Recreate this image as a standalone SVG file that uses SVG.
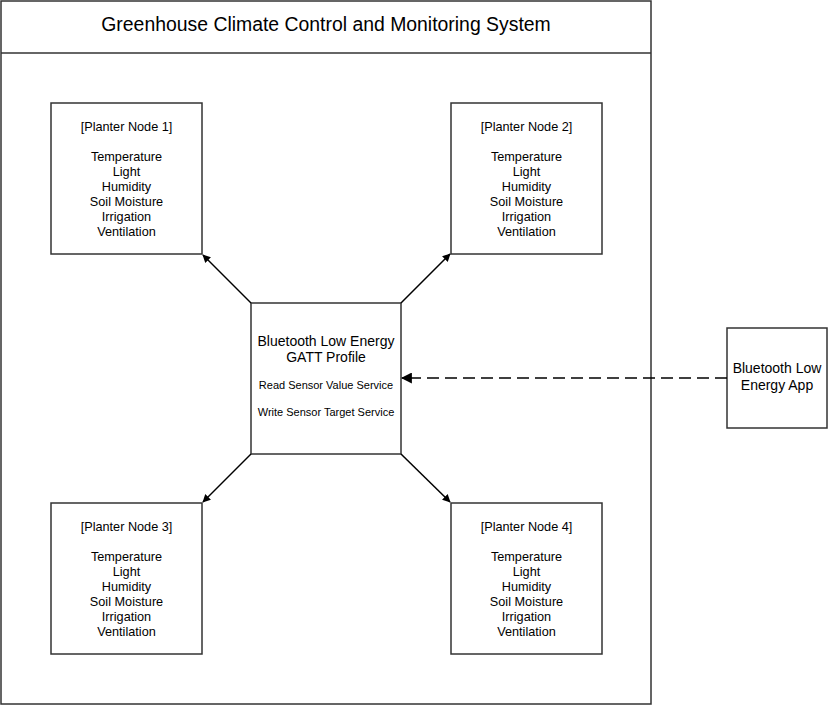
<svg xmlns="http://www.w3.org/2000/svg" width="829" height="706" viewBox="0 0 829 706">
<style>
.box{fill:#fff;stroke:#333;stroke-width:1.5}
text{font-family:"Liberation Sans",Arial,sans-serif;fill:#000;text-anchor:middle}
.t13{font-size:12.7px}
.t14{font-size:14px}
.t11{font-size:11px}
.conn{stroke:#000;stroke-width:1.5;fill:none}
</style>
<defs>
<marker id="ah" viewBox="0 0 10 10" refX="9" refY="5" markerWidth="8" markerHeight="8" markerUnits="userSpaceOnUse" orient="auto">
<path d="M0,0 L10,5 L0,10 z" fill="#000"/>
</marker>
<marker id="ah2" viewBox="0 0 10 10" refX="9" refY="5" markerWidth="11" markerHeight="11" markerUnits="userSpaceOnUse" orient="auto">
<path d="M0,0 L10,5 L0,10 z" fill="#000"/>
</marker>
</defs>
<rect width="829" height="706" fill="#fff"/>
<g id="container">
<rect class="box" x="1" y="1" width="650" height="703"/>
<line x1="1" y1="53" x2="651" y2="53" stroke="#333" stroke-width="1.5"/>
<text x="326" y="31" style="font-size:19.4px">Greenhouse Climate Control and Monitoring System</text>
</g>
<g id="node1">
<rect class="box" x="51" y="103" width="151" height="151"/>
<text class="t13" x="126.5" y="131">[Planter Node 1]</text>
<text class="t13" x="126.5" y="161">Temperature</text>
<text class="t13" x="126.5" y="176">Light</text>
<text class="t13" x="126.5" y="191">Humidity</text>
<text class="t13" x="126.5" y="206">Soil Moisture</text>
<text class="t13" x="126.5" y="221">Irrigation</text>
<text class="t13" x="126.5" y="236">Ventilation</text>
</g>
<g id="node2">
<rect class="box" x="451" y="103" width="151" height="151"/>
<text class="t13" x="526.5" y="131">[Planter Node 2]</text>
<text class="t13" x="526.5" y="161">Temperature</text>
<text class="t13" x="526.5" y="176">Light</text>
<text class="t13" x="526.5" y="191">Humidity</text>
<text class="t13" x="526.5" y="206">Soil Moisture</text>
<text class="t13" x="526.5" y="221">Irrigation</text>
<text class="t13" x="526.5" y="236">Ventilation</text>
</g>
<g id="node3">
<rect class="box" x="51" y="503" width="151" height="151"/>
<text class="t13" x="126.5" y="531">[Planter Node 3]</text>
<text class="t13" x="126.5" y="561">Temperature</text>
<text class="t13" x="126.5" y="576">Light</text>
<text class="t13" x="126.5" y="591">Humidity</text>
<text class="t13" x="126.5" y="606">Soil Moisture</text>
<text class="t13" x="126.5" y="621">Irrigation</text>
<text class="t13" x="126.5" y="636">Ventilation</text>
</g>
<g id="node4">
<rect class="box" x="451" y="503" width="151" height="151"/>
<text class="t13" x="526.5" y="531">[Planter Node 4]</text>
<text class="t13" x="526.5" y="561">Temperature</text>
<text class="t13" x="526.5" y="576">Light</text>
<text class="t13" x="526.5" y="591">Humidity</text>
<text class="t13" x="526.5" y="606">Soil Moisture</text>
<text class="t13" x="526.5" y="621">Irrigation</text>
<text class="t13" x="526.5" y="636">Ventilation</text>
</g>
<g id="gatt">
<rect class="box" x="251" y="303" width="150" height="151"/>
<text class="t14" x="326" y="346">Bluetooth Low Energy</text>
<text class="t14" x="326" y="362">GATT Profile</text>
<text class="t11" x="326" y="389">Read Sensor Value Service</text>
<text class="t11" x="326" y="416">Write Sensor Target Service</text>
</g>
<g id="app">
<rect class="box" x="727" y="328" width="100" height="100"/>
<text class="t14" x="777" y="373">Bluetooth Low</text>
<text class="t14" x="777" y="390">Energy App</text>
</g>
<g id="connectors">
<line class="conn" x1="251" y1="303" x2="203" y2="255" marker-end="url(#ah)"/>
<line class="conn" x1="401" y1="303" x2="450" y2="254" marker-end="url(#ah)"/>
<line class="conn" x1="251" y1="454" x2="203" y2="502" marker-end="url(#ah)"/>
<line class="conn" x1="401" y1="454" x2="450" y2="502" marker-end="url(#ah)"/>
<line class="conn" x1="727" y1="378" x2="402" y2="378" stroke-dasharray="12,6" marker-end="url(#ah2)"/>
</g>
</svg>
